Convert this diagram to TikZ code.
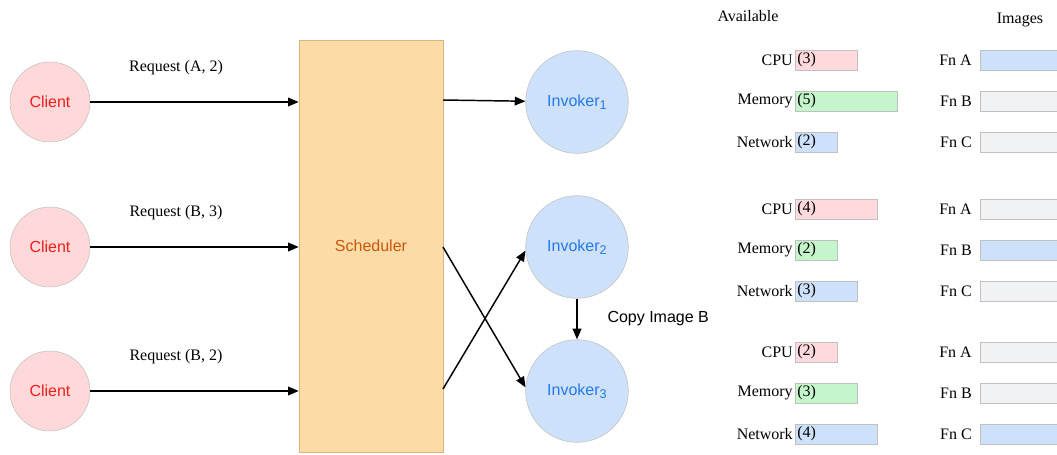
\documentclass[tikz,border=0pt]{standalone}
\usepackage{fontspec}
\setmainfont{Liberation Serif}
\setsansfont{Liberation Sans}
\usetikzlibrary{arrows.meta}

\definecolor{clientfill}{HTML}{FFD9D9}
\definecolor{clientred}{HTML}{F01D1D}
\definecolor{schedfill}{HTML}{FDDBA6}
\definecolor{schedline}{HTML}{D8B77F}
\definecolor{schedtext}{HTML}{C9570F}
\definecolor{invfill}{HTML}{CDE1FB}
\definecolor{invblue}{HTML}{2579E5}
\definecolor{cpu}{HTML}{FFD9DB}
\definecolor{mem}{HTML}{C5F5CA}
\definecolor{net}{HTML}{CDE1FB}
\definecolor{imggray}{HTML}{F1F2F4}
\definecolor{edge}{HTML}{C0C0C0}

\newcommand{\figfont}{\fontsize{12}{14}\selectfont}
\newcommand{\sub}[1]{\raisebox{-0.35ex}{\fontsize{9.5}{11}\selectfont #1}}

\tikzset{
  client/.style={circle,draw=edge,fill=clientfill,minimum size=60pt,
    font=\figfont\sffamily,text=clientred},
  invoker/.style={circle,draw=edge,fill=invfill,minimum size=77pt,
    font=\figfont\sffamily,text=invblue},
  req/.style={-{Triangle[length=8pt,width=6.5pt]},line width=1.1pt},
  bar/.style={draw=edge,minimum height=15pt,inner sep=0pt,anchor=west},
}

\begin{document}
\begin{tikzpicture}[x=0.75pt,y=-0.75pt,font=\figfont]
  \useasboundingbox (0,0) rectangle (1057,454);
  \node[draw=schedline,fill=schedfill,minimum width=108pt,minimum height=309pt,
    font=\figfont\sffamily,text=schedtext] (sched) at (371,246) {Scheduler};
  % clients and their requests
  \foreach \y/\r [count=\i] in {102/{A, 2},247/{B, 3},391/{B, 2}} {
    \node[client] (c\i) at (50,\y) {Client};
    \draw[req] (c\i) -- (sched.west |- c\i);
    \node (lbl\i) at (176,{\y-34}) {Request (\r)};
  }
  % invokers
  \foreach \y [count=\i] in {102,247,391}
    \node[invoker] (inv\i) at (577,\y) {Invoker\sub{\i}};
  \coordinate (s1) at (443,100);
  \coordinate (s2) at (443,247);
  \coordinate (s3) at (443,389);
  \draw[req] (s1) -- (inv1);
  \draw[req] (s2) -- (inv3.176);
  \draw[req] (s3) -- (inv2.184);
  \draw[req] (inv2) -- (inv3)
    node[midway,right=19pt,font=\figfont\sffamily] (copy) {Copy Image B};
  % resources and images per invoker
  \node (avail) at (748,16) {Available};
  \node (imgs) at (1020,20) {Images};
  \foreach \g/\cp/\me/\ne [count=\i] in {60/3/5/2,209/4/2/3,352/2/3/4} {
    \foreach \res/\val/\col [count=\j] in {CPU/\cp/cpu,Memory/\me/mem,Network/\ne/net} {
      \node[bar,fill=\col,minimum width=\val*15pt+1.5pt] (bar\i\j) at (795,{\g+41*(\j-1)}) {};
      \node[anchor=west,inner sep=1.5pt] (val\i\j) at (bar\i\j.west) {(\val)};
      \node[anchor=east,inner sep=1.5pt] (res\i\j) at (bar\i\j.west) {\res};
    }
    \foreach \fn [count=\j] in {A,B,C} {
      \ifnum\i=\j \def\imgcol{net}\else\def\imgcol{imggray}\fi
      \node[bar,fill=\imgcol,minimum width=62pt] (img\i\j) at (980,{\g+41*(\j-1)}) {};
      \node[anchor=east,inner sep=0pt,xshift=-6pt] (fn\i\j) at (img\i\j.west) {Fn \fn};
    }
  }
\end{tikzpicture}
\end{document}
